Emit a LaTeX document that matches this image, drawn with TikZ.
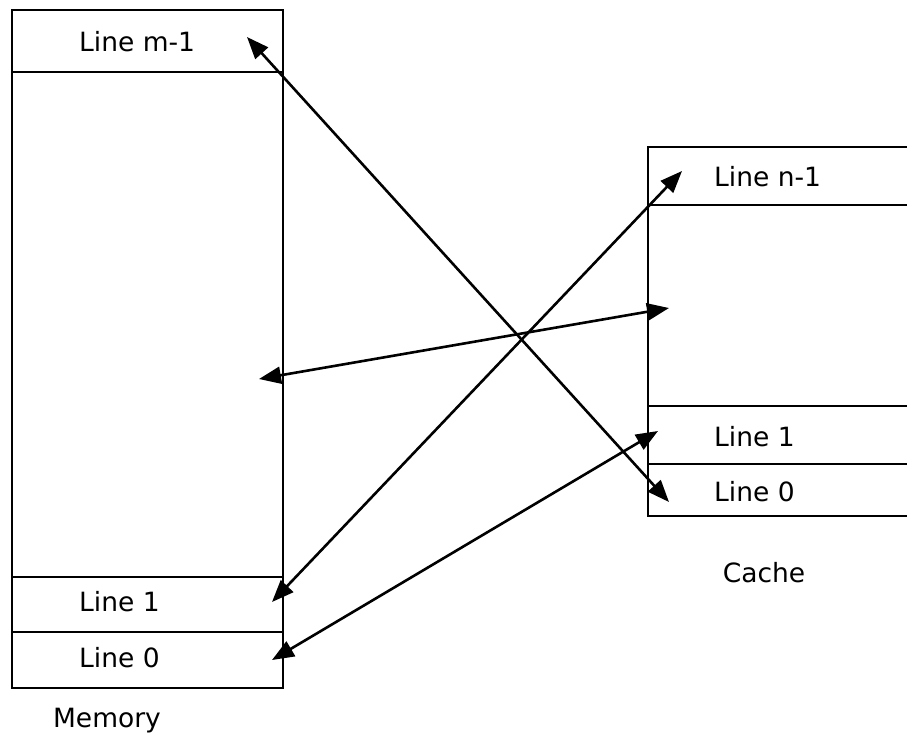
\documentclass[tikz,border=0pt]{standalone}
\usepackage{fontspec}
\setmainfont{DejaVu Sans}
\usetikzlibrary{arrows.meta}
\begin{document}
\begin{tikzpicture}[x=1pt,y=-1pt,
  box/.style={line width=2pt},
  lbl/.style={anchor=west,inner sep=0pt,font=\fontsize{26.5}{31}\selectfont},
  titlelbl/.style={inner sep=0pt,font=\fontsize{26.5}{31}\selectfont},
  link/.style={line width=2.6pt,{Triangle[length=22pt,width=17pt]}-{Triangle[length=22pt,width=17pt]}}]
\useasboundingbox (0,0) rectangle (907,742);
% Memory
\draw[box] (12,10) rectangle (283,688);
\draw[box] (12,72) -- (283,72);
\draw[box] (12,577) -- (283,577);
\draw[box] (12,632) -- (283,632);
\node[lbl] (mtop) at (79,42) {Line m-1};
\node[lbl] (mone) at (79,602) {Line 1};
\node[lbl] (mzero) at (79,658) {Line 0};
\node[titlelbl] (memlbl) at (107,721) {Memory};
% Cache
\draw[box] (907,147) -- (648,147) -- (648,516) -- (907,516);
\draw[box] (648,205) -- (907,205);
\draw[box] (648,406) -- (907,406);
\draw[box] (648,464) -- (907,464);
\node[lbl] (ctop) at (714,177) {Line n-1};
\node[lbl] (cone) at (714,437) {Line 1};
\node[lbl] (czero) at (714,492) {Line 0};
\node[titlelbl] (cachelbl) at (764,573) {Cache};
% arrow ends
\coordinate (amtop) at (247,37);
\coordinate (amone) at (272,602);
\coordinate (ammid) at (259,379);
\coordinate (amzero) at (272,660);
\coordinate (aczero) at (669,502);
\coordinate (actop) at (682,171);
\coordinate (acmid) at (669,308);
\coordinate (acone) at (658,431);
\draw[link] (amtop) -- (aczero);
\draw[link] (amone) -- (actop);
\draw[link] (ammid) -- (acmid);
\draw[link] (amzero) -- (acone);
\end{tikzpicture}
\end{document}
